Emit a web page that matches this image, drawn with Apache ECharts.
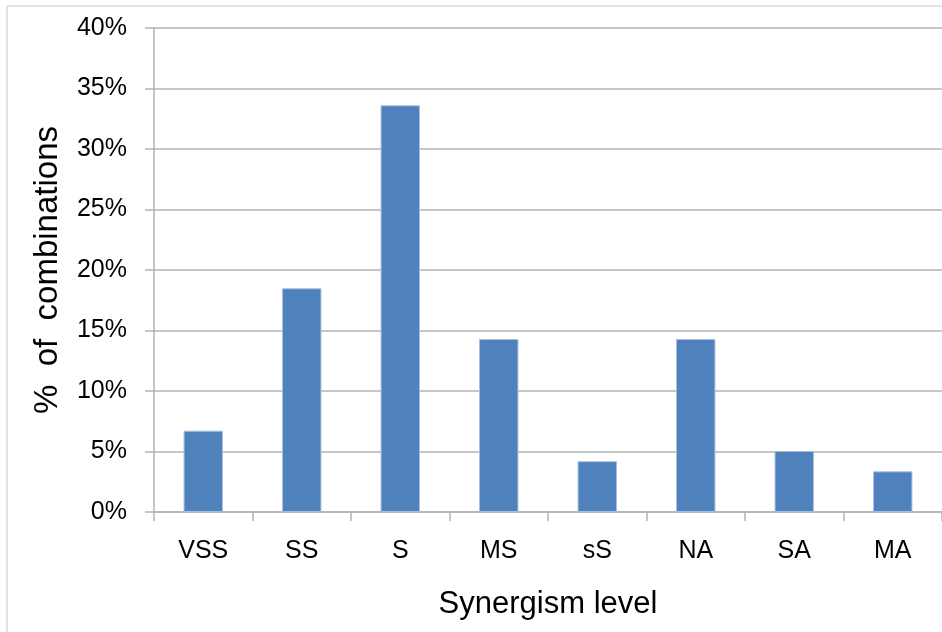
<!DOCTYPE html>
<html>
<head>
<meta charset="utf-8">
<script src="https://cdn.jsdelivr.net/npm/echarts@6/dist/echarts.min.js"></script>
<style>
html,body{margin:0;padding:0;background:#fff;}
#chart{width:942px;height:632px;}
</style>
</head>
<body>
<div id="chart"></div>
<script>
const categories = ['VSS', 'SS', 'S', 'MS', 'sS', 'NA', 'SA', 'MA'];
const percentCombinations = [6.72, 18.49, 33.61, 14.29, 4.20, 14.29, 5.04, 3.36];
const yTicks = { min: 0, max: 40, interval: 5 };
const xTitle = 'Synergism level';
const yTitle = '%  of  combinations';

const chart = echarts.init(document.getElementById('chart'), null, { renderer: 'canvas' });
const font = 'Liberation Sans, Arial, Helvetica, sans-serif';
chart.setOption({
  animation: false,
  backgroundColor: '#ffffff',
  graphic: [{
    type: 'rect',
    shape: { x: 7, y: 6, width: 1200, height: 1200 },
    style: { fill: 'none', stroke: '#e3e3e3', lineWidth: 2 },
    silent: true
  }],
  grid: { left: 154, top: 28, width: 790, bottom: 120, containLabel: false },
  xAxis: {
    type: 'category',
    data: categories,
    boundaryGap: true,
    axisLine: { show: true, lineStyle: { color: '#b3b3b3', width: 1.5 } },
    axisTick: { show: true, length: 9, alignWithLabel: false, lineStyle: { color: '#b3b3b3', width: 1.5 } },
    axisLabel: { color: '#000', fontFamily: font, fontSize: 25, margin: 27 },
    name: xTitle,
    nameLocation: 'middle',
    nameGap: 77,
    nameTextStyle: { color: '#000', fontFamily: font, fontSize: 31 }
  },
  yAxis: {
    type: 'value',
    min: yTicks.min,
    max: yTicks.max,
    interval: yTicks.interval,
    axisLine: { show: true, lineStyle: { color: '#b3b3b3', width: 1.5 } },
    axisTick: { show: true, length: 9, lineStyle: { color: '#b3b3b3', width: 1.5 } },
    axisLabel: { color: '#000', fontFamily: font, fontSize: 25, margin: 27, formatter: '{value}%' },
    splitLine: { show: true, lineStyle: { color: '#b3b3b3', width: 1.5 } },
    name: yTitle,
    nameLocation: 'middle',
    nameRotate: 90,
    nameGap: 90,
    nameTextStyle: { color: '#000', fontFamily: font, fontSize: 33 }
  },
  series: [{
    type: 'bar',
    data: percentCombinations,
    barWidth: '40%',
    itemStyle: { color: '#4f81bd', borderColor: '#a7bfdf', borderWidth: 1 }
  }]
});
</script>
</body>
</html>
